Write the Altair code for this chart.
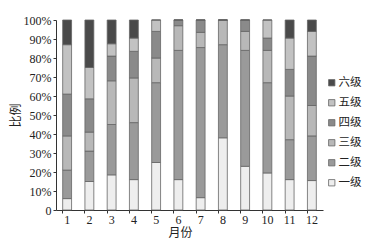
import altair as alt
import pandas as pd

months = [str(i) for i in range(1, 13)]
levels = ["一级", "二级", "三级", "四级", "五级", "六级"]
# percentage of each level per month
lv1 = [6, 15, 18.5, 16, 25, 16, 6.5, 38, 23, 19.5, 16, 15.5]
lv2 = [15, 16, 26.5, 30, 42, 68, 79, 49, 61, 47.5, 21, 23.5]
lv3 = [18, 10, 23, 23.5, 13, 13, 8, 13, 10, 17, 23, 16]
lv4 = [22, 17.5, 13, 14, 14, 3, 6.5, 0, 6, 6.5, 14, 26]
lv5 = [26, 16.5, 6.5, 7, 6, 0, 0, 0, 0, 9.5, 16.5, 13]
lv6 = [13, 25, 12.5, 9.5, 0, 0, 0, 0, 0, 0, 9.5, 6]
series = [lv1, lv2, lv3, lv4, lv5, lv6]
colors = ["#eeeeee", "#9a9a9a", "#b8b8b8", "#8a8a8a", "#c2c2c2", "#4a4a4a"]

rows = []
for k, (lv, vals) in enumerate(zip(levels, series)):
    for m, v in zip(months, vals):
        rows.append({"月份": m, "等级": lv, "比例": v, "rank": k})
df = pd.DataFrame(rows)

font = "Liberation Serif, Noto Sans CJK SC"

chart = alt.Chart(df).mark_bar(stroke="#666666", strokeWidth=0.8).encode(
    x=alt.X("月份:N", sort=months,
            scale=alt.Scale(paddingInner=0.6, paddingOuter=0.3),
            axis=alt.Axis(labelAngle=0, title="月份", titleX=112, titleY=17,
                          titleAnchor="start", titleAlign="left",
                          tickSize=3, bandPosition=0, domainColor="#333",
                          tickColor="#333", labelPadding=1)),
    y=alt.Y("比例:Q", stack="normalize",
            scale=alt.Scale(domain=[0, 1]),
            axis=alt.Axis(values=[i / 10 for i in range(11)],
                          labelExpr="datum.value == 0 ? '0' : format(datum.value, '.0%')",
                          title="比例", titleAngle=270, titleX=-41, titleY=95,
                          titleAlign="center", titleBaseline="middle",
                          grid=False, tickSize=3, domainColor="#333", tickColor="#333",
                          labelPadding=2)),
    color=alt.Color("等级:N",
                    scale=alt.Scale(domain=levels[::-1], range=colors[::-1]),
                    legend=alt.Legend(title=None, orient="none", legendX=270, legendY=57,
                                      symbolType="square", symbolSize=40,
                                      symbolStrokeColor="#666", symbolStrokeWidth=0.8,
                                      rowPadding=7, labelFontSize=11.5, labelFont=font,
                                      labelOffset=1, labelColor="#222")),
    order=alt.Order("rank:Q", sort="ascending"),
).properties(
    width=267, height=190,
    autosize=alt.AutoSizeParams(type="none"),
    padding={"left": 48, "top": 12, "right": 44, "bottom": 29},
).configure_view(stroke=None).configure_axis(
    labelFont=font, titleFont=font, labelFontSize=12, titleFontSize=12,
    labelColor="#222", titleColor="#222", titleFontWeight="normal"
)

chart.save("out.html", embed_options={"renderer": "svg", "actions": False})
